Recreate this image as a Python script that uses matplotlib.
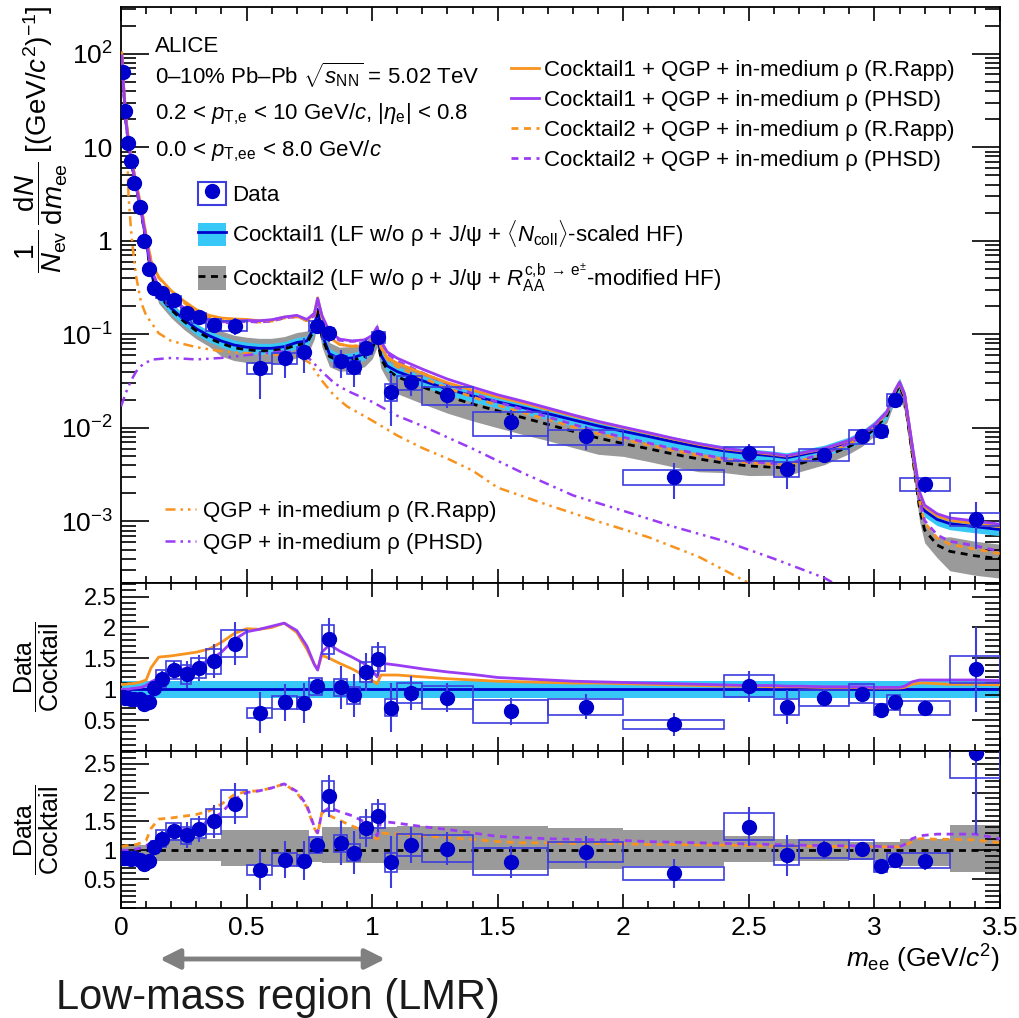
# dielectron mass spectrum, 0-10% Pb-Pb, data vs cocktail + models

import numpy as np
import matplotlib
matplotlib.use("Agg")
import matplotlib.pyplot as plt
from matplotlib.patches import Patch, FancyArrowPatch
from matplotlib.lines import Line2D
from matplotlib.ticker import MultipleLocator, LogLocator, FixedLocator, FuncFormatter, NullFormatter

plt.rcParams['font.family'] = ['Liberation Sans', 'DejaVu Sans']
plt.rcParams['mathtext.fontset'] = 'custom'
plt.rcParams['mathtext.rm'] = 'Liberation Sans'
plt.rcParams['mathtext.it'] = 'Liberation Sans:italic'
plt.rcParams['mathtext.bf'] = 'Liberation Sans:bold'
plt.rcParams['mathtext.sf'] = 'Liberation Sans'

# ---- data points
m_data = [0.006, 0.016, 0.026, 0.038, 0.051, 0.074, 0.092, 0.111, 0.133, 0.163,
          0.213, 0.263, 0.312, 0.372, 0.453, 0.553, 0.652, 0.728, 0.779, 0.828,
          0.875, 0.927, 0.977, 1.025, 1.077, 1.153, 1.300, 1.552, 1.852, 2.202,
          2.502, 2.652, 2.801, 2.952, 3.027, 3.080, 3.202, 3.404]
bin_edges = [0, 0.01, 0.02, 0.03, 0.04, 0.06, 0.08, 0.10, 0.12, 0.14, 0.18, 0.24, 0.28,
             0.34, 0.40, 0.50, 0.60, 0.70, 0.75, 0.80, 0.85, 0.90, 0.95, 1.00, 1.05,
             1.10, 1.20, 1.40, 1.70, 2.00, 2.40, 2.60, 2.70, 2.90, 3.00, 3.05, 3.10,
             3.30, 3.50]
yield_data = [64, 24.5, 11.1, 7.2, 4.2, 2.3, 1.0, 0.5, 0.317, 0.28,
              0.234, 0.171, 0.152, 0.127, 0.124, 0.0436, 0.0558, 0.0656, 0.124, 0.103,
              0.0514, 0.0447, 0.0714, 0.0935, 0.0245, 0.0306, 0.0226, 0.0116, 0.0081, 0.003,
              0.0054, 0.00366, 0.00517, 0.0081, 0.0092, 0.020, 0.0025, 0.00107]
ratio1_data = [0.87, 0.86, 0.86, 0.85, 0.85, 0.85, 0.76, 0.80, 1.02, 1.17,
               1.31, 1.24, 1.34, 1.455, 1.74, 0.62, 0.79, 0.78, 1.05, 1.81,
               1.03, 0.90, 1.28, 1.49, 0.70, 0.94, 0.865, 0.64, 0.72, 0.43,
               1.05, 0.71, 0.865, 0.93, 0.67, 0.79, 0.70, 1.32]
ratio2_data = [0.87, 0.87, 0.86, 0.85, 0.86, 0.84, 0.77, 0.81, 1.05, 1.20,
               1.33, 1.26, 1.37, 1.50, 1.81, 0.66, 0.84, 0.82, 1.09, 1.94,
               1.12, 0.96, 1.39, 1.60, 0.79, 1.09, 1.03, 0.80, 0.97, 0.60,
               1.41, 0.91, 1.02, 1.02, 0.72, 0.83, 0.82, 2.68]
stat_rel = [0.02, 0.02, 0.02, 0.02, 0.02, 0.03, 0.04, 0.05, 0.05, 0.11,
            0.11, 0.18, 0.16, 0.19, 0.20, 0.53, 0.38, 0.41, 0.08, 0.19,
            0.34, 0.39, 0.24, 0.18, 0.57, 0.29, 0.27, 0.34, 0.28, 0.42,
            0.24, 0.39, 0.16, 0.11, 0.07, 0.05, 0.19, 0.52]
sys_rel = [0.06, 0.06, 0.06, 0.06, 0.06, 0.07, 0.07, 0.08, 0.10, 0.12,
           0.11, 0.12, 0.12, 0.14, 0.125, 0.13, 0.13, 0.12, 0.13, 0.13,
           0.13, 0.15, 0.13, 0.13, 0.20, 0.17, 0.22, 0.29, 0.18, 0.18,
           0.17, 0.18, 0.15, 0.16, 0.14, 0.15, 0.16, 0.16]

# ---- cocktails and models on a common mass grid
m_grid = [0.003, 0.01, 0.02, 0.03, 0.04, 0.06, 0.08, 0.10, 0.12, 0.15,
          0.20, 0.25, 0.30, 0.35, 0.40, 0.45, 0.50, 0.55, 0.60, 0.65,
          0.70, 0.74, 0.77, 0.783, 0.80, 0.83, 0.87, 0.92, 0.97, 1.00,
          1.02, 1.035, 1.06, 1.10, 1.20, 1.30, 1.40, 1.50, 1.60, 1.70,
          1.80, 1.90, 2.00, 2.10, 2.20, 2.30, 2.40, 2.50, 2.60, 2.65,
          2.70, 2.80, 2.90, 2.95, 3.00, 3.05, 3.08, 3.10, 3.12, 3.15,
          3.18, 3.20, 3.25, 3.30, 3.40, 3.50]
cocktail1 = [95, 45, 19, 11, 7.5, 3.8, 2.1, 1.0, 0.45, 0.27,
             0.19, 0.145, 0.115, 0.097, 0.085, 0.077, 0.073, 0.071, 0.071, 0.074,
             0.082, 0.085, 0.12, 0.185, 0.10, 0.062, 0.055, 0.056, 0.062, 0.075,
             0.10, 0.06, 0.046, 0.040, 0.032, 0.026, 0.022, 0.019, 0.0165, 0.0142,
             0.0122, 0.0105, 0.0092, 0.0081, 0.0071, 0.0063, 0.0057, 0.0053, 0.0050, 0.0048,
             0.0051, 0.0058, 0.0071, 0.0083, 0.0105, 0.0145, 0.024, 0.030, 0.022, 0.006,
             0.0018, 0.0013, 0.00105, 0.00095, 0.00088, 0.00082]
cocktail2 = [92, 43.6, 18.4, 10.7, 7.3, 3.7, 2.04, 0.97, 0.437, 0.262,
             0.183, 0.138, 0.109, 0.091, 0.080, 0.072, 0.0686, 0.0667, 0.0667, 0.0696,
             0.077, 0.080, 0.113, 0.174, 0.094, 0.058, 0.0517, 0.0526, 0.058, 0.070,
             0.094, 0.0555, 0.042, 0.0352, 0.0275, 0.0218, 0.018, 0.0152, 0.0129, 0.0109,
             0.0092, 0.0078, 0.0068, 0.0060, 0.00525, 0.00466, 0.00422, 0.00392, 0.0038, 0.00374,
             0.00413, 0.00493, 0.00632, 0.00755, 0.00977, 0.0136, 0.0226, 0.0282, 0.0207, 0.0054,
             0.00135, 0.00081, 0.00056, 0.00048, 0.00043, 0.0004]
# model / cocktail ratios
r_rapp1 = [1.08, 1.08, 1.08, 1.09, 1.09, 1.10, 1.12, 1.15, 1.35, 1.52,
           1.54, 1.57, 1.60, 1.65, 1.76, 1.90, 1.98, 1.97, 2.00, 2.07,
           1.92, 1.65, 1.40, 1.33, 1.55, 1.50, 1.42, 1.33, 1.22, 1.14,
           1.09, 1.23, 1.23, 1.23, 1.20, 1.17, 1.15, 1.13, 1.12, 1.11,
           1.10, 1.10, 1.09, 1.08, 1.07, 1.06, 1.05, 1.05, 1.04, 1.04,
           1.04, 1.03, 1.03, 1.03, 1.02, 1.02, 1.02, 1.02, 1.03, 1.08,
           1.10, 1.10, 1.09, 1.08, 1.08, 1.07]
r_phsd1 = [1.00, 1.00, 1.00, 1.00, 1.01, 1.02, 1.03, 1.06, 1.12, 1.18,
           1.27, 1.33, 1.39, 1.46, 1.60, 1.80, 1.93, 1.97, 2.02, 2.07,
           1.95, 1.70, 1.40, 1.31, 1.60, 1.72, 1.62, 1.52, 1.41, 1.30,
           1.20, 1.42, 1.41, 1.39, 1.33, 1.28, 1.24, 1.19, 1.17, 1.15,
           1.13, 1.12, 1.11, 1.10, 1.09, 1.08, 1.07, 1.06, 1.06, 1.05,
           1.05, 1.04, 1.04, 1.04, 1.03, 1.03, 1.03, 1.03, 1.05, 1.12,
           1.15, 1.15, 1.15, 1.15, 1.15, 1.14]
r_rapp2 = [1.07, 1.07, 1.08, 1.08, 1.09, 1.10, 1.13, 1.17, 1.38, 1.54,
           1.56, 1.59, 1.62, 1.68, 1.80, 1.96, 2.02, 2.03, 2.08, 2.15,
           2.00, 1.75, 1.38, 1.28, 1.66, 1.60, 1.52, 1.42, 1.33, 1.24,
           1.19, 1.30, 1.29, 1.28, 1.25, 1.22, 1.19, 1.15, 1.13, 1.13,
           1.12, 1.12, 1.11, 1.10, 1.10, 1.09, 1.09, 1.08, 1.07, 1.07,
           1.07, 1.07, 1.06, 1.06, 1.06, 1.06, 1.06, 1.06, 1.08, 1.15,
           1.20, 1.20, 1.19, 1.19, 1.18, 1.13]
r_phsd2 = [1.00, 1.00, 1.00, 1.00, 1.01, 1.02, 1.04, 1.08, 1.13, 1.20,
           1.30, 1.36, 1.42, 1.50, 1.65, 1.88, 2.00, 2.03, 2.08, 2.15,
           2.02, 1.78, 1.40, 1.30, 1.65, 1.74, 1.67, 1.60, 1.49, 1.38,
           1.25, 1.50, 1.49, 1.47, 1.41, 1.36, 1.30, 1.24, 1.22, 1.20,
           1.19, 1.18, 1.17, 1.15, 1.14, 1.13, 1.12, 1.11, 1.10, 1.09,
           1.09, 1.08, 1.08, 1.07, 1.07, 1.06, 1.06, 1.06, 1.10, 1.20,
           1.25, 1.26, 1.28, 1.28, 1.28, 1.20]

# cocktail uncertainty bands (relative)
c1_band = [0.86, 1.13]
band_edges = [0, 0.14, 0.4, 0.75, 0.8, 1.1, 1.7, 2.0, 2.4, 2.6, 2.9, 3.1, 3.3, 3.5]
band_hi = [1.10, 1.19, 1.36, 1.22, 1.41, 1.42, 1.39, 1.36, 1.25, 1.20, 1.15, 1.20, 1.43]
band_lo = [0.90, 0.82, 0.73, 0.79, 0.78, 0.66, 0.67, 0.73, 0.79, 0.82, 0.84, 0.73, 0.62]

# QGP + in-medium rho alone
m_rapp = [0.025, 0.03, 0.04, 0.05, 0.06, 0.08, 0.10, 0.15, 0.20, 0.30, 0.40, 0.50, 0.60,
          0.70, 0.75, 0.80, 0.85, 0.90, 1.00, 1.10, 1.20, 1.30, 1.40, 1.50, 1.70,
          1.90, 2.10, 2.30, 2.50]
v_rapp = [8.0, 3.0, 1.3, 0.7, 0.42, 0.22, 0.16, 0.103, 0.085, 0.073, 0.066, 0.063, 0.061,
          0.058, 0.050, 0.032, 0.022, 0.017, 0.012, 0.0083, 0.0061, 0.0047, 0.0035, 0.0023, 0.0015,
          0.0010, 0.00068, 0.00042, 0.00022]
m_phsd = [0.0, 0.02, 0.04, 0.06, 0.09, 0.13, 0.20, 0.30, 0.40, 0.50, 0.60, 0.65, 0.70,
          0.75, 0.80, 0.85, 0.90, 1.00, 1.10, 1.20, 1.40, 1.60, 1.80, 2.00, 2.20,
          2.40, 2.60, 2.80, 2.85]
v_phsd = [0.017, 0.024, 0.032, 0.040, 0.049, 0.054, 0.056, 0.054, 0.056, 0.060, 0.064, 0.066, 0.064,
          0.055, 0.040, 0.030, 0.025, 0.019, 0.0135, 0.0105, 0.006, 0.0033, 0.0019, 0.0013, 0.00088,
          0.00062, 0.0004, 0.00025, 0.00021]

# axis ticks
top_yticks = [1e-3, 1e-2, 1e-1, 1, 10, 100]
ratio_yticks = [0.5, 1, 1.5, 2, 2.5]

ORANGE = '#f7931e'
PURPLE = '#9b3cf5'
BLUE = '#0000cc'
CYAN = '#38c8f8'
GRAY = '#9a9a9a'
EBLUE = '#3c3ce0'
DDOT = (0, (4, 2, 1, 2, 1, 2))
DASH = (0, (2.5, 2))

m_grid = np.array(m_grid)
c1 = np.array(cocktail1)
c2 = np.array(cocktail2)
idx = np.clip(np.searchsorted(band_edges, m_grid, side='right') - 1, 0, len(band_hi) - 1)
b_hi = np.array(band_hi)[idx]
b_lo = np.array(band_lo)[idx]

W, H = 1020, 1018
fig = plt.figure(figsize=(W / 100, H / 100), dpi=100)
L, R = 121 / W, 1000 / W
ax1 = fig.add_axes([L, 1 - 583 / H, R - L, (583 - 7) / H])
ax2 = fig.add_axes([L, 1 - 751 / H, R - L, (751 - 583) / H])
ax3 = fig.add_axes([L, 1 - 908 / H, R - L, (908 - 751) / H])


def draw_data(ax, vals):
    vals = np.array(vals)
    ax.bar(bin_edges[:-1], 2 * vals * np.array(sys_rel), width=np.diff(bin_edges),
           bottom=vals * (1 - np.array(sys_rel)), align='edge', fill=False,
           edgecolor=EBLUE, lw=1.2, zorder=6)
    ax.errorbar(m_data, vals, yerr=vals * np.array(stat_rel), fmt='o', color=BLUE,
                ecolor=EBLUE, elinewidth=1.5, ms=10, capsize=0, zorder=7)


# ---- top panel
ax1.set_yscale('log')
ax1.fill_between(m_grid, c2 * b_lo, c2 * b_hi, color=GRAY, lw=0, zorder=1)
ax1.fill_between(m_grid, c1 * c1_band[0], c1 * c1_band[1], color=CYAN, lw=0, zorder=2)
ax1.plot(m_grid, c1, color=BLUE, lw=2, zorder=3)
ax1.plot(m_grid, c2, color='k', lw=2, ls=DASH, zorder=3)
ax1.plot(m_grid, c2 * np.array(r_rapp2), color=ORANGE, lw=2, ls=DASH, zorder=4)
ax1.plot(m_grid, c2 * np.array(r_phsd2), color=PURPLE, lw=2, ls=DASH, zorder=4)
ax1.plot(m_grid, c1 * np.array(r_rapp1), color=ORANGE, lw=2, zorder=4)
ax1.plot(m_grid, c1 * np.array(r_phsd1), color=PURPLE, lw=2, zorder=4)
ax1.plot(m_rapp, v_rapp, color=ORANGE, lw=1.8, ls=DDOT, zorder=4)
ax1.plot(m_phsd, v_phsd, color=PURPLE, lw=1.8, ls=DDOT, zorder=4)
draw_data(ax1, yield_data)
ax1.set_ylim(2.2e-4, 316)


def logfmt(v, p):
    e = int(round(np.log10(v)))
    if e == 0:
        return '1'
    if e == 1:
        return '10'
    return r'$10^{%d}$' % e


ax1.yaxis.set_major_locator(FixedLocator(top_yticks))
ax1.yaxis.set_minor_locator(LogLocator(base=10, subs=np.arange(2, 10)))
ax1.yaxis.set_major_formatter(FuncFormatter(logfmt))
ax1.yaxis.set_minor_formatter(NullFormatter())
ax1.set_ylabel(r'$\dfrac{1}{N_{\rm ev}}\,\dfrac{{\rm d}N}{{\rm d}m_{\rm ee}}$ [(GeV/$c^{2}$)$^{-1}$]',
               fontsize=20)
ax1.yaxis.set_label_coords(-0.058, 0.77)

# ---- middle panel: data / cocktail1
ax2.axhspan(c1_band[0], c1_band[1], color=CYAN, lw=0, zorder=1)
ax2.axhline(1, color=BLUE, lw=2, zorder=2)
ax2.plot(m_grid, r_rapp1, color=ORANGE, lw=2, zorder=3)
ax2.plot(m_grid, r_phsd1, color=PURPLE, lw=2, zorder=3)
draw_data(ax2, ratio1_data)

# ---- bottom panel: data / cocktail2
ax3.stairs(band_hi, band_edges, baseline=band_lo, fill=True, color=GRAY, lw=0, zorder=1)
ax3.axhline(1, color='k', lw=2, ls=DASH, zorder=2)
ax3.plot(m_grid, r_rapp2, color=ORANGE, lw=2, ls=DASH, zorder=3)
ax3.plot(m_grid, r_phsd2, color=PURPLE, lw=2, ls=DASH, zorder=3)
draw_data(ax3, ratio2_data)

for ax in (ax2, ax3):
    ax.set_ylim(0, 2.72)
    ax.yaxis.set_major_locator(FixedLocator(ratio_yticks))
    ax.yaxis.set_minor_locator(MultipleLocator(0.1))
    ax.yaxis.set_major_formatter(FuncFormatter(lambda v, p: '%g' % v))
    ax.tick_params(axis='y', labelsize=17)
    ax.set_ylabel(r'$\dfrac{\rm Data}{\rm Cocktail}$', fontsize=18)
    ax.yaxis.set_label_coords(-0.068, 0.5)

for ax in (ax1, ax2, ax3):
    ax.set_xlim(0, 3.5)
    ax.xaxis.set_major_locator(MultipleLocator(0.5))
    ax.xaxis.set_minor_locator(MultipleLocator(0.1))
    ax.tick_params(which='both', direction='in', top=True, right=True, width=1.2)
    ax.tick_params(axis='y', which='major', length=20)
    ax.tick_params(axis='y', which='minor', length=11)
    ax.tick_params(axis='x', which='major', length=10)
    ax.tick_params(axis='x', which='minor', length=5)
    for s in ax.spines.values():
        s.set_linewidth(1.3)
    if ax is not ax3:
        ax.tick_params(axis='x', labelbottom=False)

ax1.tick_params(axis='y', labelsize=19, pad=6)
ax3.xaxis.set_major_formatter(FuncFormatter(lambda v, p: '%g' % v))
ax3.tick_params(axis='x', labelsize=19, pad=6)
ax3.set_xlabel(r'$m_{\rm ee}$ (GeV/$c^{2}$)', fontsize=19, loc='right', labelpad=2)

# ---- text and legends
tx = 0.0387
ax1.text(tx, 0.922, 'ALICE', transform=ax1.transAxes, fontsize=16)
ax1.text(tx, 0.865, r'0–10% Pb–Pb $\sqrt{s_{\rm NN}}$ = 5.02 TeV', transform=ax1.transAxes, fontsize=16)
ax1.text(tx, 0.804, r'0.2 < $p_{\rm T,\!e}$ < 10 GeV/$c$, |$\eta_{\rm e}$| < 0.8', transform=ax1.transAxes, fontsize=16)
ax1.text(tx, 0.740, r'0.0 < $p_{\rm T,\!ee}$ < 8.0 GeV/$c$', transform=ax1.transAxes, fontsize=16)

h_models = [Line2D([], [], color=ORANGE, lw=2), Line2D([], [], color=PURPLE, lw=2),
            Line2D([], [], color=ORANGE, lw=2, ls=DASH),
            Line2D([], [], color=PURPLE, lw=2, ls=DASH)]
l_models = ['Cocktail1 + QGP + in-medium ρ (R.Rapp)', 'Cocktail1 + QGP + in-medium ρ (PHSD)',
            'Cocktail2 + QGP + in-medium ρ (R.Rapp)', 'Cocktail2 + QGP + in-medium ρ (PHSD)']
leg1 = ax1.legend(h_models, l_models, loc='upper left', bbox_to_anchor=(0.4437, 0.908),
                  frameon=False, fontsize=16, handlelength=1.25, handletextpad=0.25,
                  labelspacing=0.40, borderpad=0, borderaxespad=0)
ax1.add_artist(leg1)

h_data = [(Patch(facecolor='none', edgecolor=EBLUE, lw=1.5),
           Line2D([], [], marker='o', color=BLUE, ls='none', ms=10)),
          (Patch(facecolor=CYAN, lw=0), Line2D([], [], color=BLUE, lw=2)),
          (Patch(facecolor=GRAY, lw=0), Line2D([], [], color='k', lw=2, ls=DASH))]
l_data = ['Data',
          r'Cocktail1 (LF w/o ρ + J/ψ + $\langle N_{\rm coll}\rangle$-scaled HF)',
          r'Cocktail2 (LF w/o ρ + J/ψ + $R_{\rm AA}^{{\rm c,\!b}\,\rightarrow\,{\rm e}^{\pm}}$-modified HF)']
leg2 = ax1.legend(h_data, l_data, loc='upper left', bbox_to_anchor=(0.0876, 0.697),
                  frameon=False, fontsize=16, handlelength=1.25, handleheight=1.25,
                  handletextpad=0.3, labelspacing=0.55, borderpad=0, borderaxespad=0)
ax1.add_artist(leg2)

h_qgp = [Line2D([], [], color=ORANGE, lw=1.8, ls=DDOT), Line2D([], [], color=PURPLE, lw=1.8, ls=DDOT)]
l_qgp = ['QGP + in-medium ρ (R.Rapp)', 'QGP + in-medium ρ (PHSD)']
ax1.legend(h_qgp, l_qgp, loc='upper left', bbox_to_anchor=(0.05, 0.143), frameon=False,
           fontsize=16, handlelength=1.4, handletextpad=0.3, labelspacing=0.5,
           borderpad=0, borderaxespad=0)

# ---- low-mass region annotation
yarr = 1 - 959 / H
arrow = FancyArrowPatch((157 / W, yarr), (388 / W, yarr), transform=fig.transFigure,
                        arrowstyle='<|-|>,head_length=12,head_width=6', mutation_scale=1,
                        color='#808080', lw=3.5)
fig.patches.append(arrow)
fig.text(278 / W, 1 - 998 / H, 'Low-mass region (LMR)', ha='center', va='center',
         fontsize=30, color='#1a1a1a')

fig.savefig('out.png', dpi=100)
